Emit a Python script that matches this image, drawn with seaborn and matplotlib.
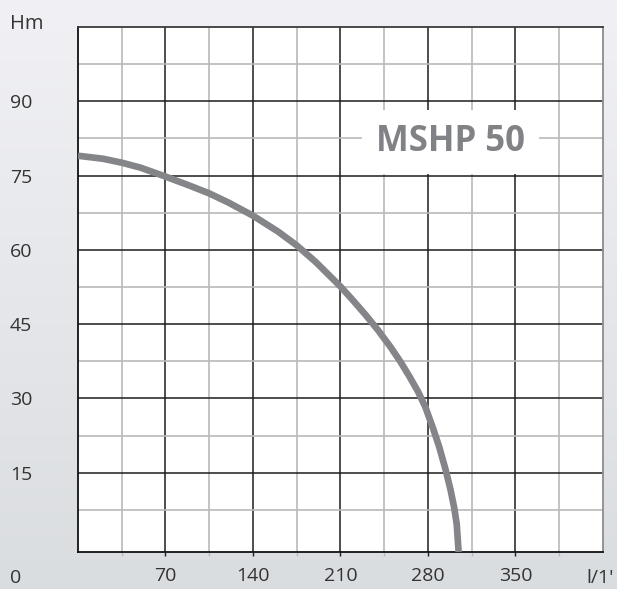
import numpy as np
import pandas as pd
import seaborn as sns
from matplotlib import pyplot as plt

# pump curve (flow l/min, head m)
flow = [0, 20, 35, 50, 70, 90, 105, 120, 140, 160, 175, 190, 210, 220, 230, 240,
        250, 258, 265, 272, 278, 284, 289, 294, 298, 301, 303, 304.5]
head = [79, 78.4, 77.6, 76.6, 74.8, 72.9, 71.4, 69.6, 66.9, 63.7, 60.9, 57.6, 52.6, 49.8, 46.9, 43.8,
        40.4, 37.4, 34.5, 31.4, 28.2, 24.0, 20.2, 15.7, 11.6, 7.9, 4.6, -1]

x_major = [70, 140, 210, 280, 350]
x_minor = [35, 105, 175, 245, 315, 385]
y_major = [15, 30, 45, 60, 75, 90]
y_minor = [7.5, 22.5, 37.5, 52.5, 67.5, 82.5, 97.5]
model = "MSHP 50"

sns.set_theme(style="white")
plt.rcParams["font.family"] = ["Open Sans", "DejaVu Sans"]

fig = plt.figure(figsize=(6.17, 5.89), dpi=100)

# light grey vertical gradient behind everything
bg = fig.add_axes([0, 0, 1, 1], zorder=-10)
grad = np.linspace(0, 1, 256).reshape(-1, 1)
bg.imshow(grad, aspect="auto", cmap=sns.blend_palette(["#f1f1f5", "#dadde0"], as_cmap=True),
          extent=[0, 1, 0, 1])
bg.axis("off")

ax = fig.add_axes([0.1264, 0.0628, 0.8509, 0.8914])
ax.set_facecolor("white")

df = pd.DataFrame({"flow": flow, "head": head})
sns.lineplot(data=df, x="flow", y="head", ax=ax, color="#848588", linewidth=4.8,
             solid_capstyle="butt", solid_joinstyle="round", zorder=5)

ax.set_xlim(0, 420)
ax.set_ylim(-1, 105)
ax.set_xticks(x_major)
ax.set_xticks(x_minor, minor=True)
ax.set_yticks(y_major)
ax.set_yticks(y_minor, minor=True)
ax.set_xticklabels([str(v) for v in x_major])
ax.set_yticklabels([str(v) for v in y_major])
ax.set_xlabel("")
ax.set_ylabel("")

ax.grid(which="major", color="#1c1c1c", linewidth=1.1)
ax.grid(which="minor", color="#b9b9b9", linewidth=1.2)
ax.set_axisbelow(True)

ax.tick_params(axis="x", which="both", direction="out", length=3, width=1, pad=8,
               labelsize=14, labelcolor="#333333", bottom=True)
ax.tick_params(axis="x", which="major", color="#1c1c1c")
ax.tick_params(axis="x", which="minor", color="#b9b9b9")
ax.tick_params(axis="y", which="both", length=0, pad=49, labelsize=14, labelcolor="#333333")
for lab in ax.get_yticklabels():
    lab.set_horizontalalignment("left")

for side in ["left", "bottom"]:
    ax.spines[side].set_color("#111111")
    ax.spines[side].set_linewidth(1.3)
ax.spines["top"].set_color("#3a3a3a")
ax.spines["top"].set_linewidth(1.3)
ax.spines["right"].set_color("#8c8c8c")
ax.spines["right"].set_linewidth(1.3)

ax.text(298, 81.7, model, fontsize=25, fontweight="bold", color="#808285",
        ha="center", va="center", zorder=6,
        bbox=dict(boxstyle="square,pad=0.4", facecolor="white", edgecolor="none"))

fig.text(10 / 617, 1 - 24 / 589, "Hm", fontsize=14.5, color="#333333", ha="left", va="center")
fig.text(10 / 617, 1 - 578 / 589, "0", fontsize=14, color="#333333", ha="left", va="center")
fig.text(586 / 617, 1 - 578 / 589, "l/1'", fontsize=14, color="#333333", ha="left", va="center")

fig.savefig("out.png", dpi=100)
